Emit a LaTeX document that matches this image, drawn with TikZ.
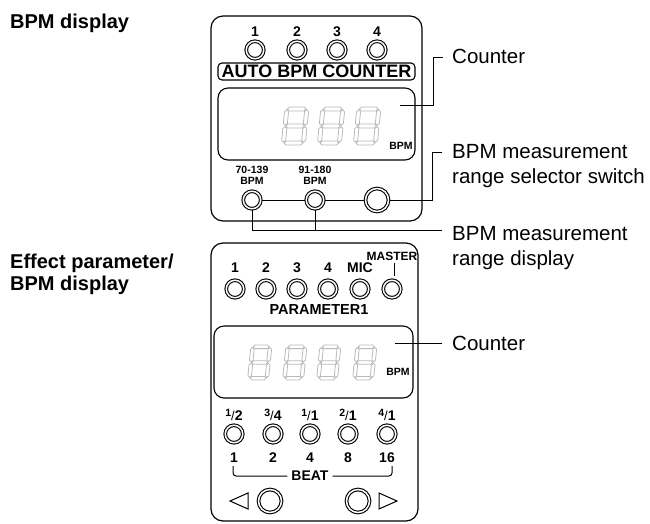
\documentclass[tikz,border=0pt]{standalone}
\usepackage{fontspec}
\setmainfont{Liberation Sans}
\newcommand\hsegx[1]{\draw ({\xL+\G},#1) -- ({\xL+\G+\T/2},{#1-\T/2}) -- ({\xR-\G-\T/2},{#1-\T/2}) -- ({\xR-\G},#1) -- ({\xR-\G-\T/2},{#1+\T/2}) -- ({\xL+\G+\T/2},{#1+\T/2}) -- cycle;}
\newcommand\vsegx[3]{\draw (#1,{#2+\G}) -- ({#1+\T/2},{#2+\G+\T/2}) -- ({#1+\T/2},{#3-\G-\T/2}) -- (#1,{#3-\G}) -- ({#1-\T/2},{#3-\G-\T/2}) -- ({#1-\T/2},{#2+\G+\T/2}) -- cycle;}
\newcommand\segdigit[5]{%
\begin{scope}[shift={(#1,#2)},xslant=0.1,seg]
\pgfmathsetmacro\T{#5}\pgfmathsetmacro\G{0.7}
\pgfmathsetmacro\xL{#5/2}\pgfmathsetmacro\xR{#3-#5/2}
\pgfmathsetmacro\yA{#5/2}\pgfmathsetmacro\yB{#4/2}\pgfmathsetmacro\yC{#4-#5/2}
\hsegx{\yA}\hsegx{\yB}\hsegx{\yC}
\vsegx{\xL}{\yA}{\yB}\vsegx{\xR}{\yA}{\yB}
\vsegx{\xL}{\yB}{\yC}\vsegx{\xR}{\yB}{\yC}
\end{scope}}
\begin{document}
\begin{tikzpicture}[x=1pt,y=-1pt,
  panel/.style={draw,line width=1.2pt,rounded corners=12pt},
  disp/.style={draw,line width=1.1pt,rounded corners=10pt},
  led/.style={circle,draw,line width=1.1pt,double=white,double distance=1.5pt,minimum size=17.5pt,inner sep=0pt,outer sep=1.3pt},
  bigbtn/.style={led,minimum size=23pt},
  pl/.style={font=\bfseries\fontsize{14}{14}\selectfont,inner sep=0pt},
  sm/.style={font=\bfseries\fontsize{10.5}{10.5}\selectfont,inner sep=0pt},
  lead/.style={line width=1pt},
  rl/.style={font=\fontsize{20.5}{24}\selectfont,anchor=base west,inner sep=0pt},
  ll/.style={font=\bfseries\fontsize{20}{24}\selectfont,anchor=base west,inner sep=0pt},
  seg/.style={draw=gray!55,line width=0.8pt}]
\useasboundingbox (0,0) rectangle (650,523);
\newcommand\frc[2]{{\fontsize{10.5}{10.5}\selectfont\raisebox{4.5pt}{#1}}{\mdseries\fontsize{13}{13}\selectfont/}#2}

% left labels
\node[ll] (lab1) at (10,28) {BPM display};
\node[ll] (lab2) at (10,268) {Effect parameter/};
\node[ll] (lab3) at (10,290) {BPM display};

% ---------- top panel
\draw[panel] (211,16) rectangle (422,221);
\foreach \x/\n in {255/1,297/2,337/3,377/4}{
  \node[pl] (tn\n) at (\x,32) {\n};
  \node[led] (t\n) at (\x,50) {};
}
\node[draw,line width=1.1pt,rounded corners=4pt,minimum width=197pt,minimum height=17pt,inner sep=0pt,
  font=\bfseries\fontsize{18}{18}\selectfont] (auto) at (316.5,71.5) {AUTO BPM COUNTER};
\draw[disp] (218,88) rectangle (415,160);
\segdigit{285}{107}{24}{38}{4}
\segdigit{321}{107}{24}{38}{4}
\segdigit{357}{107}{24}{38}{4}
\node[sm] (tbpm) at (401,146) {BPM};
\node[sm] (r1a) at (252,170) {70-139};
\node[sm] (r1b) at (252,181) {BPM};
\node[sm] (r2a) at (315,170) {91-180};
\node[sm] (r2b) at (315,181) {BPM};
\node[led] (b1) at (252,200) {};
\node[led] (b2) at (315,200) {};
\node[bigbtn] (sel) at (377,200) {};
\draw[lead] (b1) -- (b2);
\draw[lead] (b2) -- (sel);

% ---------- bottom panel
\draw[panel] (211,243) rectangle (418,521);
\foreach \x/\n in {235/1,266/2,297/3,328/4,360/MIC}{
  \node[pl] (pn\n) at (\x,268) {\n};
}
\node[pl,font=\bfseries\fontsize{12}{12}\selectfont] (master) at (392,256) {MASTER};
\draw[lead] (394,263) -- (394,276);
\foreach \x/\n in {235/1,266/2,297/3,328/4,360/5,392/6}{
  \node[led] (p\n) at (\x,289) {};
}
\node[pl,font=\bfseries\fontsize{14.5}{14.5}\selectfont] (param) at (319,310) {PARAMETER1};
\draw[disp] (214,326) rectangle (413,398);
\segdigit{251}{345}{21}{35}{3.6}
\segdigit{286}{345}{21}{35}{3.6}
\segdigit{320}{345}{21}{35}{3.6}
\segdigit{356}{345}{21}{35}{3.6}
\node[sm] (bbpm) at (398,372) {BPM};
\foreach \x/\a/\b/\k/\num in {234/1/2/1/1,273/3/4/2/2,310/1/1/3/4,348/2/1/4/8,387/4/1/5/16}{
  \node[pl] (f\k) at (\x,415) {\frc{\a}{\b}};
  \node[led] (q\k) at (\x,434) {};
  \node[pl] (n\k) at (\x,458) {\num};
}
\node[pl] (beat) at (310,476) {BEAT};
\coordinate (bl) at (233,466);
\coordinate (br) at (392,466);
\draw[lead,rounded corners=3pt] (bl) |- ([xshift=-4pt]beat.west);
\draw[lead,rounded corners=3pt] (br) |- ([xshift=4pt]beat.east);
\node[bigbtn] (left) at (270,501) {};
\node[bigbtn] (right) at (358,501) {};
\draw[line width=1pt] (248,493) -- (230,501) -- (248,509) -- cycle;
\draw[line width=1pt] (379,493) -- (397,501) -- (379,509) -- cycle;

% ---------- right labels and leaders
\node[rl] (counter1) at (452,63) {Counter};
\node[rl] (sel1) at (452,158) {BPM measurement};
\node[rl] (sel2) at (452,183) {range selector switch};
\node[rl] (rng1) at (452,240) {BPM measurement};
\node[rl] (rng2) at (452,265) {range display};
\node[rl] (counter2) at (452,350) {Counter};

\coordinate (c1) at (400,105);
\coordinate (k1) at (443,57);
\draw[lead] (c1) -- (433,105) |- (k1);
\coordinate (k2) at (442,152);
\draw[lead] (sel.east) -- (432,200) |- (k2);
\coordinate (k3) at (442,230);
\draw[lead] (b1.south) |- (k3);
\draw[lead] (b2.south) -- (b2.south |- k3);
\coordinate (c2) at (395,343);
\coordinate (k4) at (442,343);
\draw[lead] (c2) -- (k4);
\end{tikzpicture}
\end{document}
